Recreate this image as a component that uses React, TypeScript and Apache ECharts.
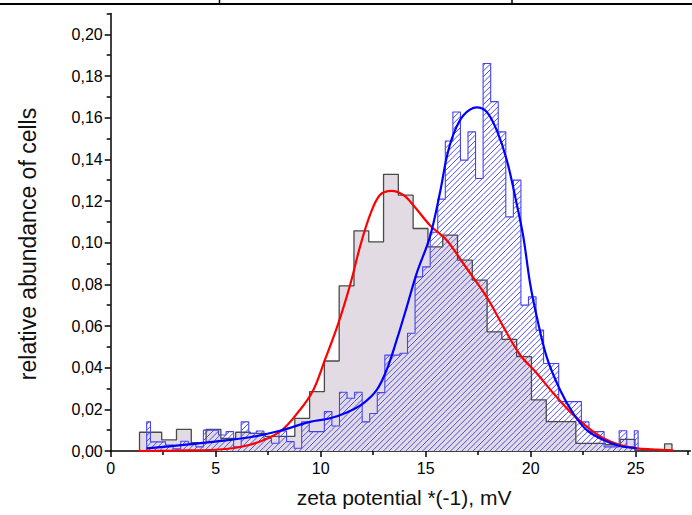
import React, { useEffect, useRef } from 'react';
import * as echarts from 'echarts';

// Gray histogram (step-centre drawing): first centre, bin width, heights
const grayFirstCenter = 1.372;
const grayBinWidth = 0.7043;
const grayHeights = [
  0.009, 0.009, 0.0053, 0.0104, 0.004, 0.0104, 0.006, 0.009, 0.0085, 0.007,
  0.007, 0.0157, 0.0285, 0.0432, 0.0793, 0.1057, 0.1004, 0.1328, 0.1228, 0.1068,
  0.098, 0.1036, 0.0916, 0.082, 0.0572, 0.0536, 0.0453, 0.0245, 0.0141, 0.0141,
  0.0037, 0.0037, 0.003, 0.0056, 0, 0, 0.0034,
];

// Blue hatched histogram
const blueFirstCenter = 1.714;
const blueBinWidth = 0.36;
const blueHeights = [
  0.014, 0.0044, 0.0044, 0.0029, 0.001, 0.0047, 0.0037, 0.002, 0.01, 0.01,
  0.0077, 0.0093, 0.002, 0.014, 0.0085, 0.0096, 0.006, 0.0037, 0.0096, 0.0045,
  0.0013, 0.014, 0.0093, 0.0093, 0.0189, 0.012, 0.0282, 0.0253, 0.0282, 0.014,
  0.018, 0.028, 0.046, 0.046, 0.0469, 0.0565, 0.0836, 0.0884, 0.105, 0.1209,
  0.1488, 0.1627, 0.1396, 0.1532, 0.1308, 0.186, 0.1677, 0.1532, 0.1124, 0.13,
  0.07, 0.074, 0.058, 0.042, 0.042, 0.0237, 0.0237, 0.0237, 0.014, 0.0093,
  0.0093, 0.002, 0.002, 0.0097, 0.002, 0.0097,
];

// Red fit curve
const redX = [1.31, 3.0, 5.0, 6.63, 8.06, 9.01, 9.65, 10.2, 10.84, 11.4, 11.87, 12.35, 12.82, 13.38, 13.93, 14.41, 15.2, 16.0, 16.79, 17.9, 18.7, 19.49, 20.29, 21.08, 21.87, 22.67, 23.46, 24.25, 25.05, 25.84, 26.79];
const redY = [0.0, 0.0002, 0.0006, 0.003, 0.0093, 0.0197, 0.0293, 0.0437, 0.0613, 0.0797, 0.098, 0.1133, 0.1229, 0.1249, 0.1229, 0.118, 0.1084, 0.1012, 0.09, 0.074, 0.0596, 0.0462, 0.0373, 0.0277, 0.0189, 0.0117, 0.0061, 0.0029, 0.0013, 0.0008, 0.0003];

// Blue fit curve
const blueX = [1.71, 3.46, 4.97, 6.63, 8.06, 9.49, 10.44, 11.24, 12.03, 12.67, 13.14, 13.62, 14.1, 14.57, 15.2, 15.7, 16.0, 16.32, 16.79, 17.43, 17.9, 18.38, 18.86, 19.33, 19.65, 19.97, 20.29, 20.76, 21.4, 22.03, 22.67, 23.46, 24.25, 25.05];
const blueY = [0.0013, 0.0029, 0.0045, 0.0066, 0.0097, 0.014, 0.0157, 0.0185, 0.0229, 0.0293, 0.0389, 0.0533, 0.0692, 0.0853, 0.1028, 0.125, 0.141, 0.152, 0.161, 0.1649, 0.1628, 0.154, 0.1397, 0.1188, 0.1028, 0.0805, 0.0644, 0.0452, 0.0293, 0.018, 0.01, 0.0053, 0.0024, 0.0013];

const xMajor = [0, 5, 10, 15, 20, 25];
const xMinor = [2.5, 7.5, 12.5, 17.5, 22.5, 27.5];
const yMajor = [0, 0.02, 0.04, 0.06, 0.08, 0.1, 0.12, 0.14, 0.16, 0.18, 0.2];
const yMinor = [0.01, 0.03, 0.05, 0.07, 0.09, 0.11, 0.13, 0.15, 0.17, 0.19, 0.21];

function binEdges(first: number, w: number, h: number[]) {
  const n = h.length;
  const last = first + (n - 1) * w;
  return h.map((v, i) => {
    const c = first + i * w;
    const l = i === 0 ? first : c - w / 2;
    const r = i === n - 1 ? last : c + w / 2;
    return [l, r, v];
  });
}

function stepPoints(first: number, w: number, h: number[]) {
  const bins = binEdges(first, w, h);
  const pts: number[][] = [[bins[0][0], 0]];
  bins.forEach(([l, r, v]) => {
    pts.push([l, v]);
    pts.push([r, v]);
  });
  pts.push([bins[bins.length - 1][1], 0]);
  return pts;
}

const FONT = 'Liberation Sans, Arial, sans-serif';
const HATCH_STEP = 5.6;

function renderHatch(_params: any, api: any) {
  const xl = api.value(0);
  const xr = api.value(1);
  const h = api.value(2);
  const p1 = api.coord([xl, h]);
  const p2 = api.coord([xr, 0]);
  const X1 = p1[0], Y1 = p1[1], X2 = p2[0], Y2 = p2[1];
  const children: any[] = [];
  if (Y2 - Y1 < 0.5) return { type: 'group', children };
  const cStart = Math.ceil((X1 + Y1) / HATCH_STEP) * HATCH_STEP;
  for (let c = cStart; c <= X2 + Y2; c += HATCH_STEP) {
    const a = Math.max(X1, c - Y2);
    const b = Math.min(X2, c - Y1);
    if (b - a > 0.05) {
      children.push({
        type: 'line',
        shape: { x1: a, y1: c - a, x2: b, y2: c - b },
        style: { stroke: '#4d4dec', lineWidth: 1 },
        silent: true,
      });
    }
  }
  return { type: 'group', children };
}

export default function App() {
  const ref = useRef<HTMLDivElement>(null);
  useEffect(() => {
    const chart = echarts.init(ref.current!, null, { renderer: 'svg' });

    const gridRect = { left: 110.7, top: 13.5, width: 579.6, height: 437.5 };
    const lineStyle = { color: '#000', width: 1.5 };

    chart.setOption({
      animation: false,
      backgroundColor: '#fff',
      grid: [gridRect, gridRect],
      xAxis: [
        {
          type: 'value', gridIndex: 0, min: 0, max: 27.6,
          axisLine: { lineStyle },
          axisTick: { customValues: xMajor, length: 6, lineStyle },
          axisLabel: { customValues: xMajor, fontSize: 16, color: '#000', fontFamily: FONT, margin: 9 },
          splitLine: { show: false },
        },
        {
          type: 'value', gridIndex: 1, min: 0, max: 27.6,
          axisLine: { show: false },
          axisTick: { customValues: xMinor, length: 4, lineStyle },
          axisLabel: { show: false },
          splitLine: { show: false },
        },
      ],
      yAxis: [
        {
          type: 'value', gridIndex: 0, min: 0, max: 0.21,
          axisLine: { lineStyle },
          axisTick: { customValues: yMajor, length: 6, lineStyle },
          axisLabel: {
            customValues: yMajor, fontSize: 16, color: '#000', fontFamily: FONT, margin: 8,
            formatter: (v: number) => v.toFixed(2).replace('.', ','),
          },
          splitLine: { show: false },
        },
        {
          type: 'value', gridIndex: 1, min: 0, max: 0.21,
          axisLine: { show: false },
          axisTick: { customValues: yMinor, length: 4, lineStyle },
          axisLabel: { show: false },
          splitLine: { show: false },
        },
      ],
      series: [
        {
          type: 'line', xAxisIndex: 0, yAxisIndex: 0, showSymbol: false, symbol: 'none',
          data: stepPoints(grayFirstCenter, grayBinWidth, grayHeights),
          lineStyle: { width: 0 },
          areaStyle: { color: '#e3dbe3', opacity: 1 },
          z: 1,
        },
        {
          type: 'custom', xAxisIndex: 0, yAxisIndex: 0,
          data: binEdges(blueFirstCenter, blueBinWidth, blueHeights),
          encode: { x: [0, 1], y: 2 },
          renderItem: renderHatch,
          silent: true,
          z: 2,
        },
        {
          type: 'line', xAxisIndex: 0, yAxisIndex: 0, showSymbol: false, symbol: 'none',
          data: stepPoints(grayFirstCenter, grayBinWidth, grayHeights),
          lineStyle: { color: '#4a4a4a', width: 1.3 },
          z: 3,
        },
        {
          type: 'line', xAxisIndex: 0, yAxisIndex: 0, showSymbol: false, symbol: 'none',
          data: stepPoints(blueFirstCenter, blueBinWidth, blueHeights),
          lineStyle: { color: '#4444ee', width: 1.1 },
          z: 4,
        },
        {
          type: 'line', xAxisIndex: 0, yAxisIndex: 0, showSymbol: false, symbol: 'none',
          data: redX.map((x, i) => [x, redY[i]]),
          smooth: 0.35,
          lineStyle: { color: '#ff0000', width: 2.2 },
          z: 5,
        },
        {
          type: 'line', xAxisIndex: 0, yAxisIndex: 0, showSymbol: false, symbol: 'none',
          data: blueX.map((x, i) => [x, blueY[i]]),
          smooth: 0.35,
          lineStyle: { color: '#0000ff', width: 2.2 },
          z: 6,
        },
      ],
      graphic: [
        { type: 'line', shape: { x1: 0, y1: 4, x2: 692, y2: 4 }, style: { stroke: '#000', lineWidth: 2 } },
        { type: 'line', shape: { x1: 219.5, y1: 0, x2: 219.5, y2: 4 }, style: { stroke: '#000', lineWidth: 1.5 } },
        { type: 'line', shape: { x1: 512, y1: 0, x2: 512, y2: 4 }, style: { stroke: '#000', lineWidth: 1.5 } },
        {
          type: 'text', x: 28, y: 244, rotation: Math.PI / 2,
          style: {
            text: 'relative abundance of cells', fill: '#111', font: `23px ${FONT}`,
            align: 'center', verticalAlign: 'middle',
          },
        },
        {
          type: 'text', x: 404, y: 497,
          style: {
            text: 'zeta potential *(-1), mV', fill: '#111', font: `21px ${FONT}`,
            align: 'center', verticalAlign: 'middle',
          },
        },
      ],
    });
    return () => chart.dispose();
  }, []);
  return (
    <div
      ref={ref}
      style={{ position: 'absolute', left: 0, top: 0, width: 692, height: 515, background: '#fff' }}
    />
  );
}
